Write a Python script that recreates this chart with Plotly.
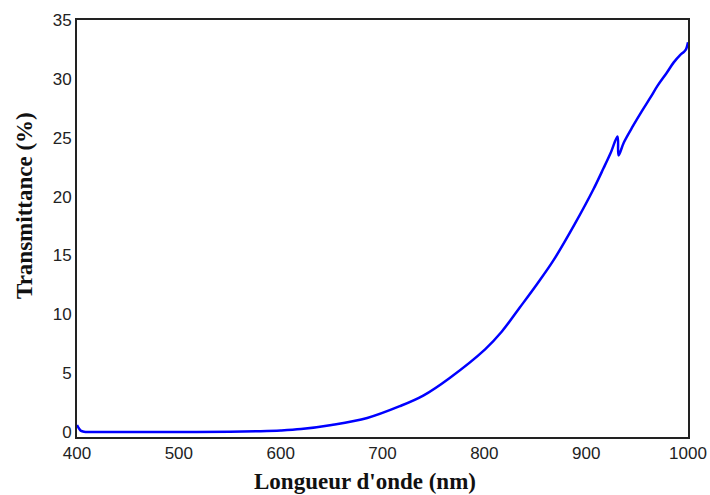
import plotly.graph_objects as go

wavelength = [400, 402, 404, 407, 420, 450, 500, 550, 580, 600, 620, 650, 685, 717, 740, 766,
              801, 817, 835, 852, 868, 889, 907, 917, 924, 930.8, 931.8, 937, 946, 955, 963, 970,
              979, 986, 992, 996, 998, 1000]
transmittance = [0.6, 0.3, 0.1, 0.03, 0.0, 0.0, 0.0, 0.02, 0.07, 0.13, 0.25, 0.6, 1.2, 2.2, 3.1, 4.6,
                 7.05, 8.52, 10.6, 12.6, 14.6, 17.7, 20.6, 22.4, 23.7, 25.1, 23.5, 24.6, 26.0, 27.3, 28.4, 29.4,
                 30.5, 31.4, 32.0, 32.3, 32.5, 33.1]
x_ticks = [400, 500, 600, 700, 800, 900, 1000]
y_ticks = [0, 5, 10, 15, 20, 25, 30, 35]
x_title = "Longueur d'onde (nm)"
y_title = "Transmittance (%)"

fig = go.Figure()
fig.add_trace(go.Scatter(
    x=wavelength, y=transmittance, mode="lines",
    line=dict(color="#0000ff", width=2.5, shape="spline", smoothing=1.0),
    showlegend=False, hoverinfo="skip"))

tickfont = dict(family="Liberation Sans, Arial, sans-serif", size=17, color="#222222")
titlefont = dict(family="Liberation Serif, Times New Roman, serif", size=23, color="#111111")

fig.update_layout(
    width=710, height=495,
    margin=dict(l=77, r=22, t=20, b=58),
    plot_bgcolor="white", paper_bgcolor="white",
    xaxis=dict(range=[400, 1000], tickvals=x_ticks, ticktext=[str(v) for v in x_ticks],
               showgrid=False, zeroline=False, showline=True, mirror=True,
               linecolor="#222222", linewidth=2, ticks="", tickfont=tickfont,
               automargin=False),
    yaxis=dict(range=[-0.42, 35], tickvals=y_ticks, ticktext=[str(v) for v in y_ticks],
               showgrid=False, zeroline=False, showline=True, mirror=True,
               linecolor="#222222", linewidth=2, ticks="", tickfont=tickfont,
               automargin=False),
    annotations=[
        dict(text="<b>" + x_title + "</b>", font=titlefont, xref="paper", yref="paper",
             x=(365 - 77) / 611, y=-(481 - 437) / 417, xanchor="center", yanchor="middle",
             showarrow=False),
        dict(text="<b>" + y_title + "</b>", font=titlefont, xref="paper", yref="paper",
             x=-(77 - 24) / 611, y=(437 - 206) / 417, xanchor="center", yanchor="middle",
             textangle=-90, showarrow=False),
    ],
)

fig.write_html("out.html", config={"displayModeBar": False},
               post_script="document.body.style.margin='0';document.body.style.overflow='hidden';")
